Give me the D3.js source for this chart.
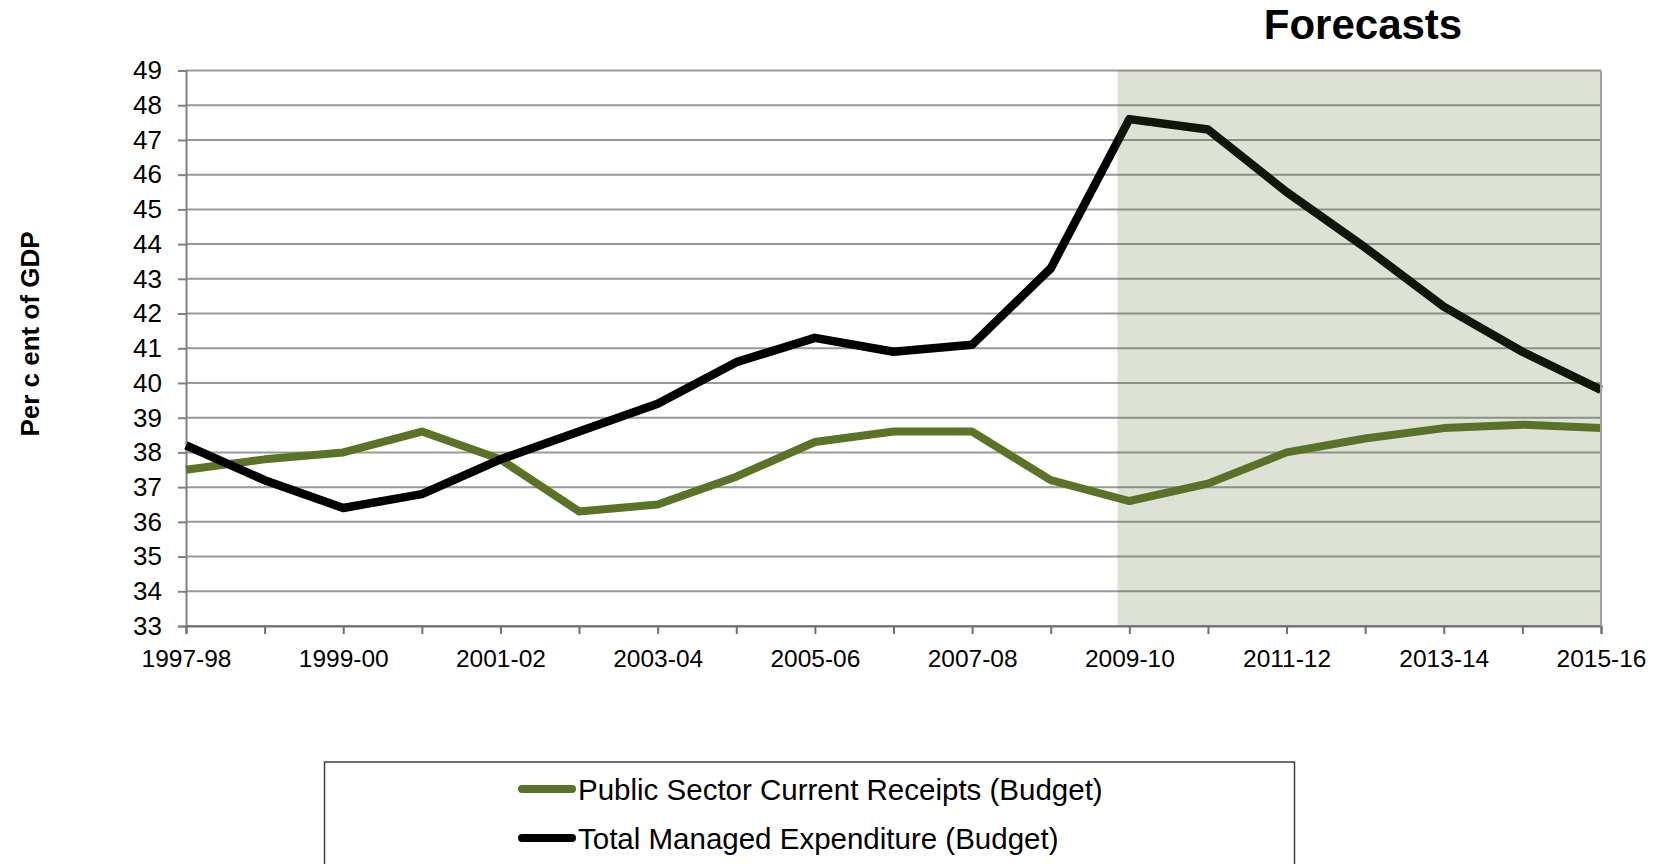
<!DOCTYPE html>
<html>
<head>
<meta charset="utf-8">
<script src="https://cdn.jsdelivr.net/npm/d3@7"></script>
<style>
  body { margin: 0; background: #fff; }
  svg { display: block; }
  text { font-family: "Liberation Sans", Arial, sans-serif; fill: #000; }
</style>
</head>
<body>
<svg id="chart" width="1668" height="864"></svg>
<script>
// Fiscal years on the category axis
const years = ["1997-98", "1998-99", "1999-00", "2000-01", "2001-02", "2002-03", "2003-04",
  "2004-05", "2005-06", "2006-07", "2007-08", "2008-09", "2009-10", "2010-11", "2011-12",
  "2012-13", "2013-14", "2014-15", "2015-16"];

// Per cent of GDP
const receipts = [37.5, 37.8, 38.0, 38.6, 37.8, 36.3, 36.5, 37.3, 38.3, 38.6, 38.6, 37.2,
  36.6, 37.1, 38.0, 38.4, 38.7, 38.8, 38.7];
const expenditure = [38.2, 37.2, 36.4, 36.8, 37.8, 38.6, 39.4, 40.6, 41.3, 40.9, 41.1, 43.3,
  47.6, 47.3, 45.5, 43.9, 42.2, 40.9, 39.8];

const yTicks = d3.range(33, 50);
const xLabels = years.filter((d, i) => i % 2 === 0);
const forecastFrom = "2009-10";

const seriesNames = ["Public Sector Current Receipts (Budget)", "Total Managed Expenditure (Budget)"];
const seriesColors = ["#5b7326", "#000000"];
const seriesWidths = [8, 8.5];

const svg = d3.select("#chart");
const plot = { left: 186, right: 1601, top: 70.5, bottom: 626 };

const x = d3.scalePoint().domain(years).range([plot.left, plot.right]);
const y = d3.scaleLinear().domain([33, 49]).range([plot.bottom, plot.top]);

// Horizontal gridlines
svg.append("g")
  .selectAll("line")
  .data(yTicks)
  .join("line")
  .attr("x1", plot.left).attr("x2", plot.right)
  .attr("y1", d => y(d)).attr("y2", d => y(d))
  .attr("stroke", "#999").attr("stroke-width", 2);

// Y axis
const yAxis = svg.append("g")
  .attr("transform", `translate(${plot.left},0)`)
  .call(d3.axisLeft(y).tickValues(yTicks).tickSize(8).tickPadding(16).tickFormat(d3.format("d")));
yAxis.select(".domain").attr("stroke", "#808080").attr("stroke-width", 2);
yAxis.selectAll(".tick line").attr("stroke", "#808080").attr("stroke-width", 2);
yAxis.selectAll(".tick text").attr("font-size", 26).attr("fill", "#000")
  .attr("font-family", "'Liberation Sans', Arial, sans-serif");

// X axis
const xAxis = svg.append("g")
  .attr("transform", `translate(0,${plot.bottom})`)
  .call(d3.axisBottom(x).tickSize(8).tickPadding(16)
    .tickFormat(d => xLabels.includes(d) ? d : ""));
xAxis.select(".domain").attr("stroke", "#707070").attr("stroke-width", 2);
xAxis.selectAll(".tick line").attr("stroke", "#707070").attr("stroke-width", 2);
xAxis.selectAll(".tick text").attr("font-size", 24.5).attr("fill", "#000")
  .attr("font-family", "'Liberation Sans', Arial, sans-serif");

// Series lines
const line = d3.line().x((d, i) => x(years[i])).y(d => y(d));
[receipts, expenditure].forEach((vals, k) => {
  svg.append("path")
    .datum(vals)
    .attr("d", line)
    .attr("fill", "none")
    .attr("stroke", seriesColors[k])
    .attr("stroke-width", seriesWidths[k])
    .attr("stroke-linejoin", "round");
});

// Forecast period shading, laid over the lines
const shadeStart = x(forecastFrom) - 0.15 * x.step();
svg.append("rect")
  .attr("x", shadeStart).attr("y", plot.top)
  .attr("width", plot.right - shadeStart).attr("height", plot.bottom - plot.top)
  .attr("fill", "rgb(92,107,51)").attr("fill-opacity", 0.2);

// Right border of plot area
svg.append("line")
  .attr("x1", plot.right).attr("x2", plot.right).attr("y1", plot.top).attr("y2", plot.bottom)
  .attr("stroke", "#a0a0a0").attr("stroke-width", 2);

// Forecast heading
svg.append("text")
  .attr("x", 1363).attr("y", 39)
  .attr("text-anchor", "middle")
  .attr("font-size", 42).attr("font-weight", "bold")
  .text("Forecasts");

// Y axis title
svg.append("text")
  .attr("transform", "translate(39,334) rotate(-90)")
  .attr("text-anchor", "middle")
  .attr("font-size", 26).attr("font-weight", "bold")
  .text("Per c ent of GDP");

// Legend
const legend = svg.append("g");
legend.append("rect")
  .attr("x", 324.5).attr("y", 762).attr("width", 970).attr("height", 120)
  .attr("fill", "#fff").attr("stroke", "#404040").attr("stroke-width", 1.5);
const legendRows = [789, 838];
seriesNames.forEach((name, k) => {
  legend.append("line")
    .attr("x1", 522).attr("x2", 572)
    .attr("y1", legendRows[k]).attr("y2", legendRows[k])
    .attr("stroke", seriesColors[k]).attr("stroke-width", 8).attr("stroke-linecap", "round");
  legend.append("text")
    .attr("x", 578).attr("y", legendRows[k])
    .attr("dy", "0.36em")
    .attr("font-size", 29.5)
    .text(name);
});
</script>
</body>
</html>
